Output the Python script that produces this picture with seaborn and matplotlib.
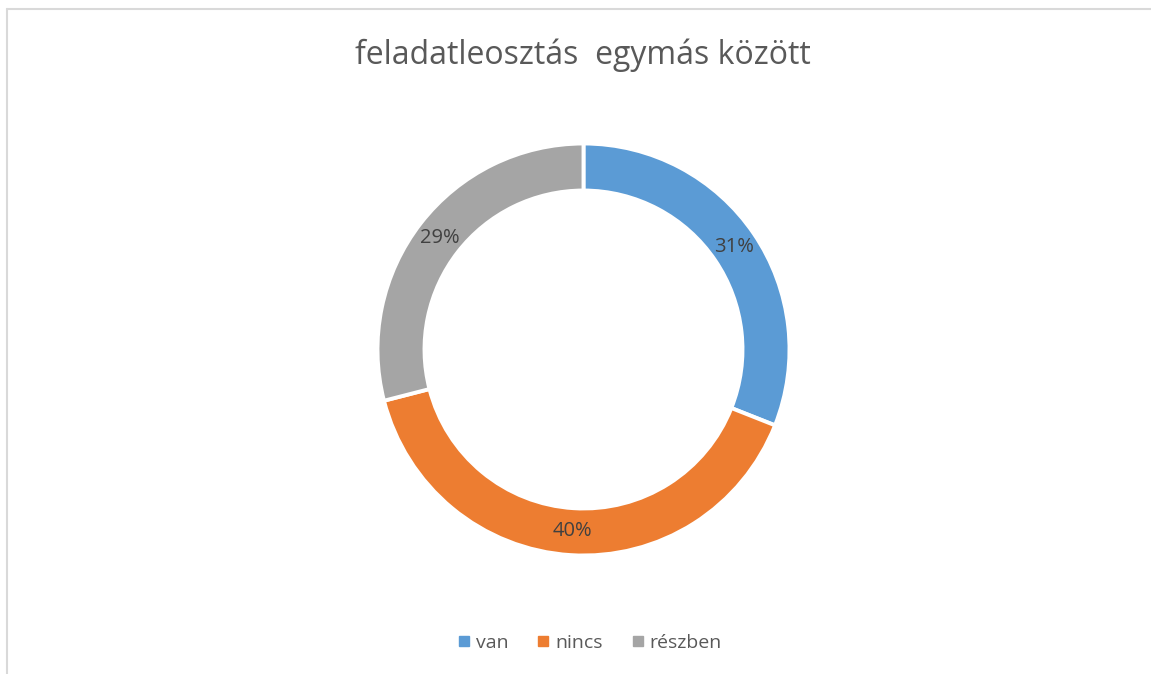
import matplotlib.pyplot as plt
import seaborn as sns
from matplotlib.lines import Line2D

categories = ['van', 'nincs', 'részben']
shares = [31, 40, 29]
colors = ['#5B9BD5', '#ED7D31', '#A5A5A5']
title = 'feladatleosztás  egymás között'

sns.set_theme(style="white")
plt.rcParams['font.family'] = ['Open Sans', 'DejaVu Sans']

W, H = 1151, 674
fig = plt.figure(figsize=(W / 100, H / 100), dpi=100)
ax = fig.add_axes([0, 0, 1, 1])

wedges, texts, autotexts = ax.pie(
    shares,
    colors=colors,
    startangle=90,
    counterclock=False,
    radius=206,
    center=(583.5, H - 349.5),
    autopct='%.0f%%',
    pctdistance=0.885,
    wedgeprops=dict(width=47, edgecolor='white', linewidth=2.8),
    textprops=dict(color='#404040', fontsize=14.5),
)
ax.set_xlim(0, W)
ax.set_ylim(0, H)
ax.set_aspect('auto')
ax.axis('off')

# chart frame (top and left edges visible)
fig.add_artist(Line2D([7 / W, 1], [1 - 9 / H, 1 - 9 / H], color='#D9D9D9', lw=1.5))
fig.add_artist(Line2D([7 / W, 7 / W], [0, 1 - 9 / H], color='#D9D9D9', lw=1.5))

fig.text(583 / W, 1 - 55 / H, title, ha='center', va='center', fontsize=23, color='#595959')

handles = [Line2D([], [], marker='s', linestyle='', color=c, markersize=7) for c in colors]
fig.legend(handles, categories, loc='center', bbox_to_anchor=(588 / W, 1 - 643 / H), ncol=3,
           frameon=False, fontsize=14, labelcolor='#595959', handletextpad=0.1,
           columnspacing=1.3, handlelength=1.0)

fig.savefig('out.png', dpi=100, facecolor='white')
